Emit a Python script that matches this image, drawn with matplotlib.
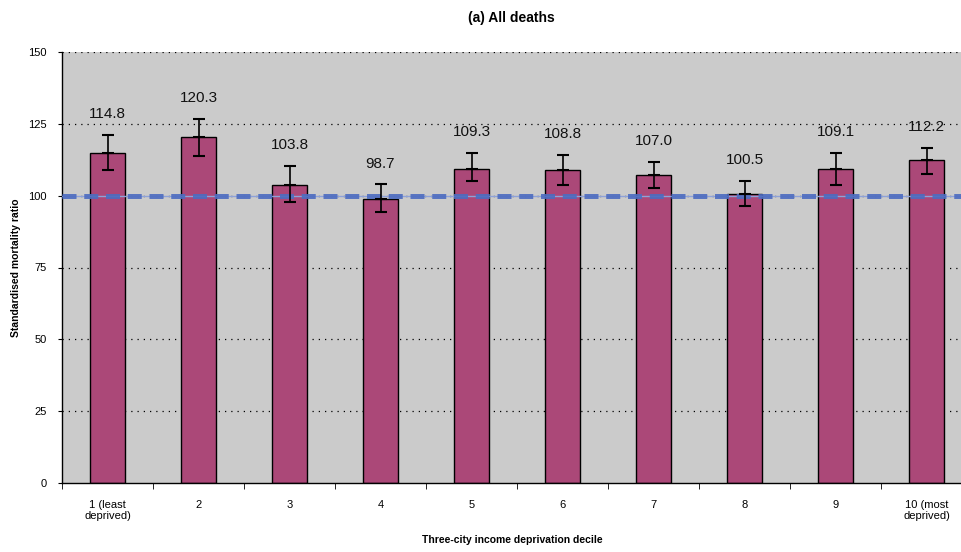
import numpy as np
import matplotlib.pyplot as plt
from matplotlib.ticker import MultipleLocator

categories = ["1 (least\ndeprived)", "2", "3", "4", "5", "6", "7", "8", "9", "10 (most\ndeprived)"]
smr = [114.8, 120.3, 103.8, 98.7, 109.3, 108.8, 107.0, 100.5, 109.1, 112.2]
ci_low = [108.8, 113.6, 97.7, 94.2, 105.0, 103.8, 102.5, 96.5, 103.5, 107.6]
ci_high = [121.2, 126.7, 110.4, 103.9, 114.7, 114.2, 111.6, 105.0, 114.7, 116.7]
reference = 100

plt.rcParams['font.family'] = ['Liberation Sans', 'DejaVu Sans']

fig = plt.figure(figsize=(9.62, 5.52), dpi=100)
# axes runs a little past the right edge, as in the original export
ax = fig.add_axes([62 / 962, 68.7 / 552, 910 / 962, 431.6 / 552])
ax.set_facecolor('#cbcbcb')

x = np.arange(len(categories))
vals = np.array(smr)
lo = vals - np.array(ci_low)
hi = np.array(ci_high) - vals

for yv in range(25, 151, 25):
    ax.axhline(yv, color='black', lw=0.9, ls=(0, (1, 4)), zorder=1)

ax.bar(x, vals, width=0.39, color='#ab4878', edgecolor='black', lw=1, zorder=2)

# reference line at 100: thick blue dashes over a thin pale line
ax.axhline(reference, color='#8ea2d8', lw=1, zorder=3)
ax.axhline(reference, color='#4d6cc0', lw=3.6, ls=(0, (2.8, 1.55)), alpha=0.9, zorder=3)

ax.errorbar(x, vals, yerr=[lo, hi], fmt='none', ecolor='black', elinewidth=1.2,
            capsize=4, capthick=1.5, zorder=4)
ax.plot(x, vals, ls='none', marker='_', ms=8, mew=1.5, color='black', zorder=4)

for xi, v, top in zip(x, smr, ci_high):
    ax.annotate(f"{v:.1f}", (xi, top), xytext=(0, 15), textcoords='offset points',
                ha='center', va='center', fontsize=11, color='#111111')

ax.set_xlim(-0.5, len(categories) - 0.5)
ax.set_ylim(0, 150)
ax.yaxis.set_major_locator(MultipleLocator(25))
ax.set_xticks(x)
ax.set_xticklabels(categories, fontsize=8, linespacing=1.15)
ax.set_xticks(np.arange(-0.5, len(categories), 1), minor=True)
ax.tick_params(axis='x', which='major', length=0, pad=12)
ax.tick_params(axis='x', which='minor', length=4, direction='out')
ax.tick_params(axis='y', labelsize=8, length=3, direction='out', pad=8)

for side in ['top', 'right']:
    ax.spines[side].set_visible(False)
ax.spines['left'].set_linewidth(1)
ax.spines['bottom'].set_linewidth(1)

ax.set_ylabel('Standardised mortality ratio', fontsize=7.5, fontweight='bold')
ax.yaxis.set_label_coords((21 - 62) / 910, 0.5)
ax.set_xlabel('Three-city income deprivation decile', fontsize=7.5, fontweight='bold')
ax.xaxis.set_label_coords(0.4945, -(535 - 483.3) / 431.6)
fig.text(511 / 962, 1 - 18 / 552, '(a) All deaths', ha='center', va='center',
         fontsize=10, fontweight='bold')

fig.savefig('out.png', dpi=100)
